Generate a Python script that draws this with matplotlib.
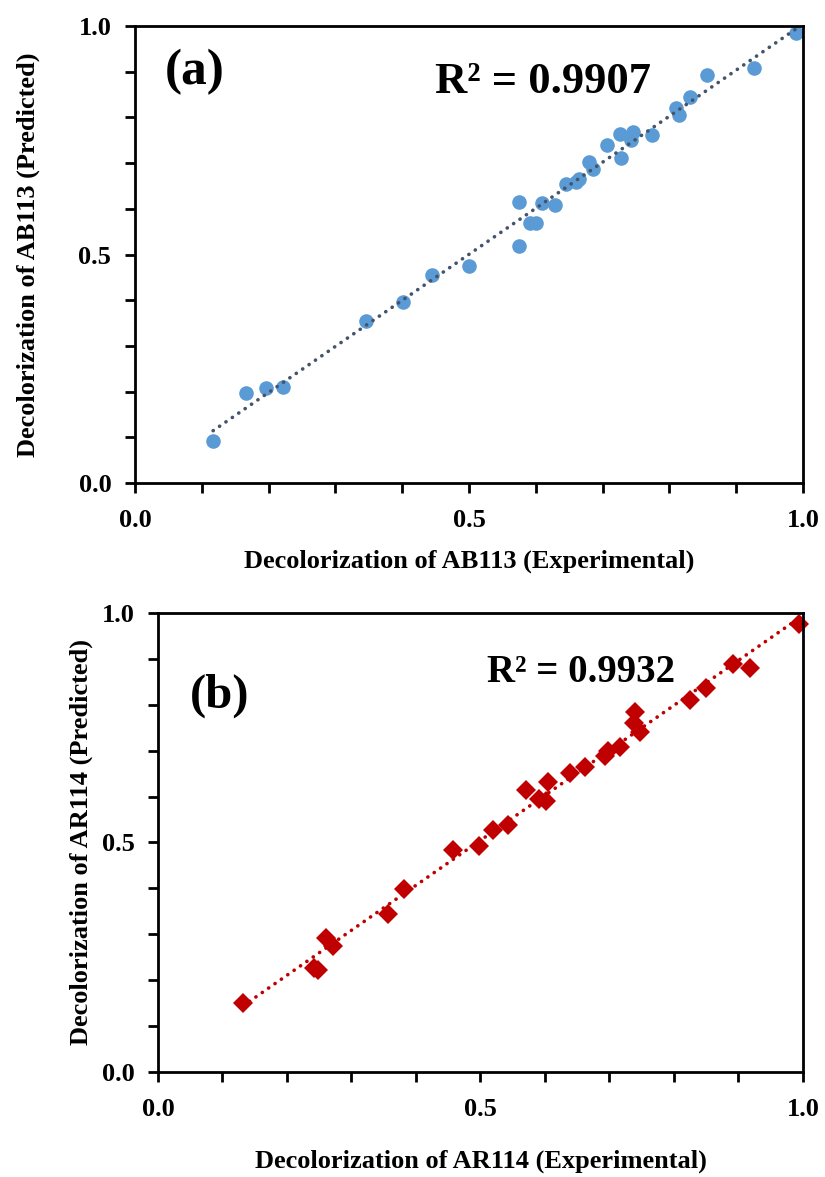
"""
Predicted vs experimental decolorization, two stacked panels.
"""

import numpy as np
import matplotlib
matplotlib.use("Agg")
import matplotlib.pyplot as plt
from matplotlib.ticker import MultipleLocator, FormatStrFormatter

# panel (a): AB113
ab_exp = [0.117, 0.166, 0.196, 0.222, 0.346, 0.401, 0.445, 0.500, 0.575, 0.575,
          0.591, 0.600, 0.609, 0.629, 0.646, 0.660, 0.665, 0.679, 0.686, 0.707,
          0.726, 0.728, 0.743, 0.746, 0.774, 0.810, 0.815, 0.831, 0.857, 0.927,
          0.990]
ab_pred = [0.092, 0.198, 0.209, 0.211, 0.354, 0.396, 0.455, 0.475, 0.519, 0.615,
           0.569, 0.569, 0.612, 0.609, 0.655, 0.658, 0.666, 0.703, 0.688, 0.739,
           0.763, 0.711, 0.750, 0.769, 0.761, 0.820, 0.805, 0.844, 0.892, 0.909,
           0.985]
ab_r2 = "R\u00b2 = 0.9907"

# panel (b): AR114
ar_exp = [0.132, 0.242, 0.248, 0.261, 0.271, 0.357, 0.381, 0.458, 0.497, 0.520,
          0.543, 0.571, 0.590, 0.602, 0.605, 0.639, 0.662, 0.693, 0.697, 0.716,
          0.738, 0.740, 0.747, 0.825, 0.849, 0.891, 0.918, 0.994]
ar_pred = [0.150, 0.227, 0.222, 0.292, 0.275, 0.344, 0.399, 0.484, 0.493, 0.527,
           0.538, 0.614, 0.594, 0.591, 0.632, 0.652, 0.665, 0.688, 0.700, 0.707,
           0.760, 0.785, 0.741, 0.810, 0.837, 0.889, 0.880, 0.977]
ar_r2 = "R\u00b2 = 0.9932"

plt.rcParams["font.family"] = ["Liberation Serif", "DejaVu Serif"]
plt.rcParams["font.weight"] = "bold"


def draw_panel(ax, x, y, marker, color, trend_color, tag, r2, xlabel, ylabel,
               tag_pos, r2_pos, msize, tag_size, r2_size, xpad, ypad):
    x = np.asarray(x)
    y = np.asarray(y)
    # Excel 风格线性趋势线，只覆盖数据范围
    k, b = np.polyfit(x, y, 1)
    xs = np.array([x.min(), x.max()])
    ax.plot(xs, k * xs + b, linestyle=(0, (0.05, 2.1)), dash_capstyle="round",
            color=trend_color, linewidth=2.6, zorder=3)
    ax.plot(x, y, linestyle="none", marker=marker, markersize=msize,
            color=color, markeredgewidth=0, zorder=2, clip_on=False)

    ax.set_xlim(0, 1)
    ax.set_ylim(0, 1)
    ax.xaxis.set_major_locator(MultipleLocator(0.5))
    ax.yaxis.set_major_locator(MultipleLocator(0.5))
    ax.xaxis.set_minor_locator(MultipleLocator(0.1))
    ax.yaxis.set_minor_locator(MultipleLocator(0.1))
    fmt = FormatStrFormatter("%.1f")
    ax.xaxis.set_major_formatter(fmt)
    ax.yaxis.set_major_formatter(fmt)
    ax.tick_params(which="both", direction="out", width=2.0, length=7,
                   top=False, right=False)
    ax.tick_params(which="major", labelsize=19)
    ax.tick_params(axis="x", which="major", pad=12)
    ax.tick_params(axis="y", which="major", pad=10)
    for lab in ax.get_xticklabels() + ax.get_yticklabels():
        lab.set_fontweight("bold")
    for sp in ax.spines.values():
        sp.set_linewidth(2.0)

    ax.set_xlabel(xlabel, fontsize=19, fontweight="bold", labelpad=xpad)
    ax.set_ylabel(ylabel, fontsize=19, fontweight="bold", labelpad=ypad)
    ax.text(tag_pos[0], tag_pos[1], tag, transform=ax.transAxes,
            fontsize=tag_size, fontweight="bold", va="center", ha="left")
    ax.text(r2_pos[0], r2_pos[1], r2, transform=ax.transAxes,
            fontsize=r2_size, fontweight="bold", va="center", ha="left")


fig = plt.figure(figsize=(8.25, 11.77), dpi=100)
ax1 = fig.add_axes([0.1636, 0.5896, 0.8097, 0.3883])
ax2 = fig.add_axes([0.1915, 0.0892, 0.7818, 0.3900])

draw_panel(ax1, ab_exp, ab_pred, "o", "#5B9BD5", "#44546A", "(a)", ab_r2,
           "Decolorization of AB113 (Experimental)",
           "Decolorization of AB113 (Predicted)",
           (0.045, 0.90), (0.449, 0.877), 10.5, 37, 32, 12, 28)
draw_panel(ax2, ar_exp, ar_pred, "D", "#C00000", "#C00000", "(b)", ar_r2,
           "Decolorization of AR114 (Experimental)",
           "Decolorization of AR114 (Predicted)",
           (0.05, 0.82), (0.51, 0.87), 10, 35, 28, 20, 6)

fig.savefig("out.png", dpi=100)
